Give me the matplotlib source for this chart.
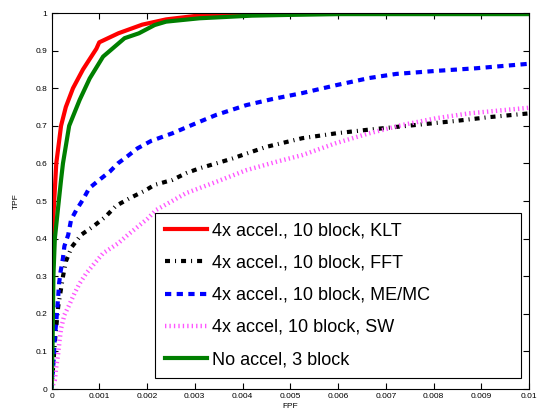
import matplotlib
matplotlib.use("Agg")
import matplotlib.pyplot as plt

plt.rcParams['font.family'] = ['Liberation Sans', 'DejaVu Sans']

labels = ["4x accel., 10 block, KLT", "4x accel., 10 block, FFT",
          "4x accel., 10 block, ME/MC", "4x accel, 10 block, SW",
          "No accel, 3 block"]

klt_fpr = [0, 0.00001, 0.00005, 0.0001, 0.0002, 0.0003, 0.00045, 0.00066, 0.00094,
           0.001, 0.0014, 0.0019, 0.0024, 0.003, 0.0042, 0.005, 0.006, 0.008, 0.01]
klt_tpr = [0, 0.37, 0.485, 0.6, 0.7, 0.75, 0.8, 0.85, 0.905,
           0.922, 0.946, 0.969, 0.983, 0.992, 0.998, 1.0, 1.0, 1.0, 1.0]

fft_fpr = [0, 0.00008, 0.00014, 0.00019, 0.00024, 0.0003, 0.00042, 0.00062, 0.00087,
           0.00113, 0.00135, 0.00163, 0.00195, 0.00216, 0.00253, 0.00282, 0.0031,
           0.00345, 0.00379, 0.00408, 0.0045, 0.00525, 0.00596, 0.00659, 0.00722,
           0.00785, 0.00847, 0.00916, 0.01]
fft_tpr = [0, 0.139, 0.219, 0.259, 0.299, 0.339, 0.377, 0.41, 0.432,
           0.458, 0.487, 0.507, 0.527, 0.543, 0.556, 0.574, 0.587,
           0.6, 0.613, 0.626, 0.644, 0.667, 0.68, 0.689, 0.697,
           0.705, 0.713, 0.723, 0.733]

me_fpr = [0, 0.00005, 0.00007, 0.0001, 0.00012, 0.00014, 0.00016, 0.00019, 0.00024,
          0.00027, 0.00035, 0.00041, 0.00052, 0.00066, 0.00079, 0.001, 0.00122,
          0.00139, 0.0016, 0.0018, 0.00209, 0.00253, 0.00303, 0.00345, 0.00408,
          0.00462, 0.00525, 0.00596, 0.00665, 0.00722, 0.00805, 0.00889, 0.01]
me_tpr = [0, 0.086, 0.139, 0.179, 0.213, 0.245, 0.282, 0.312, 0.348,
          0.38, 0.41, 0.45, 0.476, 0.504, 0.534, 0.556, 0.578,
          0.6, 0.62, 0.64, 0.66, 0.68, 0.707, 0.729, 0.755,
          0.771, 0.787, 0.808, 0.827, 0.838, 0.846, 0.853, 0.865]

sw_fpr = [0, 0.00007, 0.0001, 0.00014, 0.00017, 0.0002, 0.00027, 0.00037, 0.00048,
          0.00059, 0.00073, 0.0009, 0.00108, 0.00139, 0.0016, 0.00181, 0.00202,
          0.00219, 0.00282, 0.00345, 0.00408, 0.0047, 0.00525, 0.00596, 0.00665,
          0.00734, 0.00805, 0.00874, 0.01]
sw_tpr = [0, 0.024, 0.059, 0.095, 0.13, 0.161, 0.197, 0.223, 0.254,
          0.281, 0.308, 0.334, 0.361, 0.387, 0.41, 0.432, 0.454,
          0.476, 0.521, 0.551, 0.582, 0.604, 0.622, 0.654, 0.68,
          0.702, 0.72, 0.733, 0.748]

noacc_fpr = [0, 0.00002, 0.00004, 0.00007, 0.00014, 0.0002, 0.00024, 0.00037, 0.00059,
             0.0008, 0.00108, 0.00153, 0.00183, 0.00216, 0.0024, 0.0031, 0.0042,
             0.005, 0.006, 0.008, 0.01]
noacc_tpr = [0, 0.1, 0.3, 0.4, 0.485, 0.556, 0.6, 0.7, 0.769,
             0.826, 0.884, 0.933, 0.946, 0.968, 0.977, 0.986, 0.993,
             0.995, 0.997, 0.997, 0.997]

xticks = [0, 0.001, 0.002, 0.003, 0.004, 0.005, 0.006, 0.007, 0.008, 0.009, 0.01]
xticklabels = ["0", "0.001", "0.002", "0.003", "0.004", "0.005", "0.006",
               "0.007", "0.008", "0.009", "0.01"]
yticks = [0, 0.1, 0.2, 0.3, 0.4, 0.5, 0.6, 0.7, 0.8, 0.9, 1.0]
yticklabels = ["0", "0.1", "0.2", "0.3", "0.4", "0.5", "0.6", "0.7", "0.8", "0.9", "1"]

fig = plt.figure(figsize=(5.46, 4.12), dpi=100)
ax = fig.add_axes([51.5/546, 23/412, 477.5/546, 376/412])

ax.plot(klt_fpr, klt_tpr, color='#ff0000', lw=3, label=labels[0])
ax.plot(fft_fpr, fft_tpr, color='black', lw=3, linestyle=(0, (1.2, 1.2, 0.25, 1.2)), label=labels[1])
ax.plot(me_fpr, me_tpr, color='#0000ff', lw=3, linestyle=(0, (1.5, 1.3)), label=labels[2])
ax.plot(sw_fpr, sw_tpr, color='#ff55ff', lw=3.2, linestyle=(0, (0.3, 0.7)), label=labels[3])
ax.plot(noacc_fpr, noacc_tpr, color='#007f00', lw=3, label=labels[4])

ax.set_xlim(0, 0.01)
ax.set_ylim(0, 1)
ax.set_xticks(xticks)
ax.set_xticklabels(xticklabels)
ax.set_yticks(yticks)
ax.set_yticklabels(yticklabels)
ax.tick_params(direction='in', length=4, width=0.8, labelsize=6, top=True, right=True, pad=3)
for s in ax.spines.values():
    s.set_linewidth(0.8)
ax.set_xlabel("FPF", fontsize=6, labelpad=2)
ax.set_ylabel("TPF", fontsize=6, labelpad=11)

leg = ax.legend(loc='lower left', bbox_to_anchor=(0.216, 0.029, 0.767, 0.434), mode='expand',
                fontsize=13, frameon=True, fancybox=False, edgecolor='black', framealpha=1,
                handlelength=2.35, labelspacing=0.84, borderpad=0.55, handletextpad=0.3,
                borderaxespad=0)
leg.get_frame().set_linewidth(0.8)

fig.savefig("out.png", dpi=100)
